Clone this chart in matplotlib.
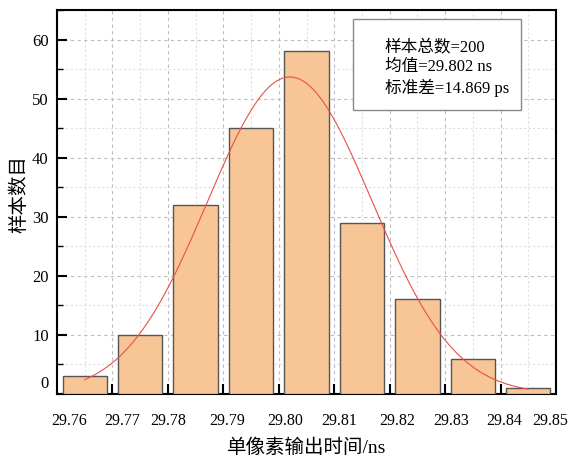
import numpy as np
import matplotlib.pyplot as plt
from matplotlib.ticker import MultipleLocator
from matplotlib import transforms
from matplotlib.patches import Rectangle

plt.rcParams['font.family'] = ['Liberation Serif', 'Noto Sans CJK SC']
plt.rcParams['axes.unicode_minus'] = False

# histogram of single-pixel output time
bin_edges = [29.76, 29.77, 29.78, 29.79, 29.80, 29.81, 29.82, 29.83, 29.84, 29.85]
counts = [3, 10, 32, 45, 58, 29, 16, 6, 1]
n_total = 200
mean_ns = 29.802
std_ps = 14.869

tick_labels = ['29.76', '29.77', '29.78', '29.79', '29.80',
               '29.81', '29.82', '29.83', '29.84', '29.85']
# small horizontal nudges of the labels (in pixels)
label_shift = [12, 9.6, 0, 3.7, 6.2, 4.8, 7.4, 5.9, 3.5, -6]

edges = np.array(bin_edges)
width = edges[1] - edges[0]
centers = edges[:-1] + width / 2

fig = plt.figure(figsize=(5.69, 4.59), dpi=100)
ax = fig.add_axes([0.1002, 0.1416, 0.8770, 0.8366])

ax.bar(centers, counts, width=width * 0.8, color='#f8c596',
       edgecolor='#555555', linewidth=1.0, zorder=3)

# fitted normal curve
sigma = std_ps / 1000
xs = np.linspace(centers[0], centers[-1], 300)
amp = n_total * width / (sigma * np.sqrt(2 * np.pi))
ax.plot(xs, amp * np.exp(-(xs - mean_ns) ** 2 / (2 * sigma ** 2)),
        color='#e8504a', lw=0.8, zorder=4)

ax.set_xlim(edges[0], edges[-1])
ax.set_ylim(0, 65)

ax.set_xticks(edges[1:-1])
ax.set_xticks(centers, minor=True)
ax.set_xticklabels([])
ax.yaxis.set_major_locator(MultipleLocator(10))
ax.yaxis.set_minor_locator(MultipleLocator(5))
ax.tick_params(which='major', direction='in', length=7, width=1.5,
               labelsize=12, pad=6)
ax.tick_params(which='minor', direction='in', length=4, width=1.0)

ax.grid(which='major', color='#bdbdbd', linestyle=(0, (3, 3)), lw=0.8)
ax.grid(which='minor', color='#e0e0e0', linestyle=(0, (2, 2)), lw=0.8)
ax.set_axisbelow(True)

for s in ax.spines.values():
    s.set_linewidth(1.5)

# x tick labels
trans = transforms.blended_transform_factory(ax.transData, ax.transAxes)
for v, lab, dx in zip(edges, tick_labels, label_shift):
    off = transforms.ScaledTranslation(dx / 100, 0, fig.dpi_scale_trans)
    ax.text(v, -0.07, lab, transform=trans + off, ha='center', va='center',
            fontsize=11.5)

# lift the zero label off the bottom spine
for lab in ax.get_yticklabels():
    if lab.get_text() == '0':
        lab.set_transform(lab.get_transform() +
                          transforms.ScaledTranslation(0, 0.12, fig.dpi_scale_trans))

ax.set_xlabel('单像素输出时间/ns', fontsize=14, labelpad=26)
ax.set_ylabel('样本数目', fontsize=14)
ax.yaxis.set_label_coords(-0.058, 0.52)

# statistics box
ax.add_patch(Rectangle((0.593, 0.740), 0.337, 0.237, transform=ax.transAxes,
                       fc='white', ec='#888888', lw=1.0, zorder=6))
info = f'样本总数={n_total}\n均值={mean_ns} ns\n标准差={std_ps} ps'
ax.text(0.657, 0.922, info, transform=ax.transAxes, fontsize=12,
        va='top', ha='left', linespacing=1.25, zorder=7)

fig.savefig('out.png', dpi=100)
